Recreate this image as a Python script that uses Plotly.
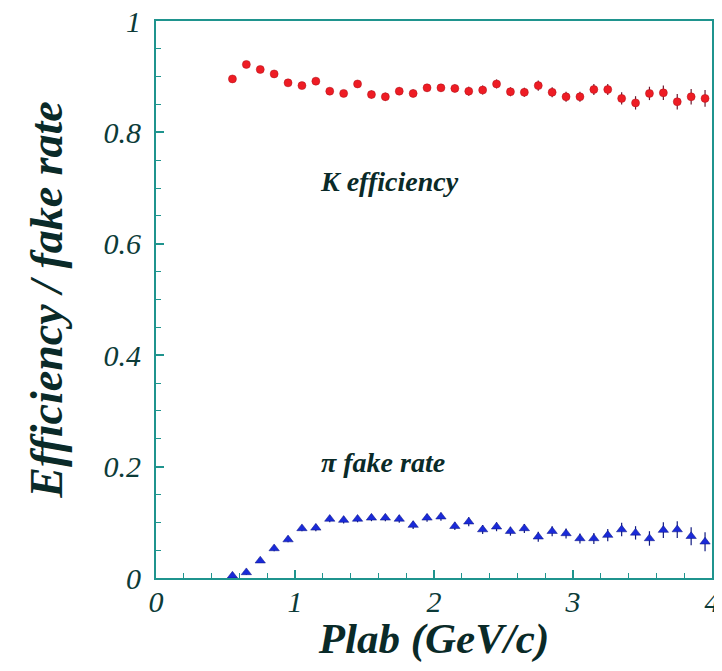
import plotly.graph_objects as go

plab = [0.55, 0.65, 0.75, 0.85, 0.95, 1.05, 1.15, 1.25, 1.35, 1.45, 1.55, 1.65,
        1.75, 1.85, 1.95, 2.05, 2.15, 2.25, 2.35, 2.45, 2.55, 2.65, 2.75, 2.85,
        2.95, 3.05, 3.15, 3.25, 3.35, 3.45, 3.55, 3.65, 3.75, 3.85, 3.95]

k_eff = [0.896, 0.922, 0.913, 0.905, 0.889, 0.884, 0.892, 0.874, 0.870, 0.887,
         0.868, 0.864, 0.874, 0.870, 0.880, 0.880, 0.879, 0.874, 0.876, 0.887,
         0.873, 0.872, 0.884, 0.872, 0.864, 0.864, 0.877, 0.877, 0.861, 0.853,
         0.870, 0.871, 0.855, 0.864, 0.861]
k_err = [0.006, 0.006, 0.006, 0.006, 0.006, 0.006, 0.006, 0.006, 0.006, 0.006,
         0.007, 0.007, 0.007, 0.007, 0.007, 0.007, 0.007, 0.008, 0.008, 0.008,
         0.008, 0.008, 0.009, 0.009, 0.009, 0.009, 0.010, 0.010, 0.011, 0.012,
         0.012, 0.013, 0.014, 0.014, 0.015]

pi_fake = [0.004, 0.010, 0.031, 0.053, 0.069, 0.089, 0.090, 0.106, 0.104, 0.106,
           0.108, 0.108, 0.106, 0.095, 0.108, 0.110, 0.093, 0.101, 0.087, 0.092,
           0.084, 0.089, 0.074, 0.084, 0.080, 0.071, 0.071, 0.077, 0.087, 0.081,
           0.071, 0.086, 0.087, 0.075, 0.065]
pi_err = [0.003, 0.004, 0.004, 0.005, 0.005, 0.005, 0.006, 0.006, 0.006, 0.006,
          0.006, 0.006, 0.007, 0.007, 0.007, 0.007, 0.007, 0.008, 0.008, 0.008,
          0.008, 0.008, 0.009, 0.009, 0.009, 0.009, 0.010, 0.011, 0.012, 0.012,
          0.013, 0.014, 0.015, 0.016, 0.017]

x_ticks = [0, 1, 2, 3, 4]
x_ticklabels = ["0", "1", "2", "3", "4"]
y_ticks = [0, 0.2, 0.4, 0.6, 0.8, 1]
y_ticklabels = ["0", "0.2", "0.4", "0.6", "0.8", "1"]

TEAL = "#1f948e"
TXT = "#0c3b38"
DARK = "#0a2a28"
SERIF = "Liberation Serif"

fig = go.Figure()
fig.add_trace(go.Scatter(
    x=plab, y=k_eff, mode="markers", name="K efficiency",
    marker=dict(symbol="circle", size=8, color="#ee1c24",
                line=dict(color="#b01018", width=0.5)),
    error_y=dict(type="data", array=k_err, color="#6a1a30", thickness=1.2, width=0),
))
fig.add_trace(go.Scatter(
    x=plab, y=pi_fake, mode="markers", name="pi fake rate",
    marker=dict(symbol="triangle-up", size=9, color="#1a2ad8",
                line=dict(color="#0a1280", width=0.5)),
    error_y=dict(type="data", array=pi_err, color="#101a80", thickness=1.2, width=0),
))

fig.add_annotation(x=1.68, y=0.711, xref="x", yref="y", text="K efficiency",
                   showarrow=False,
                   font=dict(family=SERIF, size=28, color=DARK,
                             style="italic", weight="bold"))
fig.add_annotation(x=1.63, y=0.208, xref="x", yref="y", text="π fake rate",
                   showarrow=False,
                   font=dict(family=SERIF, size=28, color=DARK,
                             style="italic", weight="bold"))

axis_common = dict(
    showline=True, linecolor=TEAL, linewidth=2, mirror=True,
    showgrid=False, zeroline=False, automargin=False,
    ticklabeloverflow="allow",
    ticks="inside", ticklen=8, tickwidth=1.5, tickcolor=TEAL,
    tickfont=dict(family=SERIF, size=30, color=TXT, style="italic"),
)

# the page body adds an 8px border; the figure is sized so nothing overflows the window
# and the plot area sits at about x 156..712, y 21..578 in the window
fig.update_layout(
    width=706, height=655,
    margin=dict(l=148, r=2, t=13, b=85),
    paper_bgcolor="white", plot_bgcolor="white",
    showlegend=False,
    xaxis=dict(
        **axis_common, range=[0, 4], tickvals=x_ticks, ticktext=x_ticklabels,
        minor=dict(dtick=0.2, ticks="inside", ticklen=5, tickcolor=TEAL, tickwidth=1.2),
        ticklabelstandoff=-4,
        title=dict(text="Plab (GeV/c)", standoff=25,
                   font=dict(family=SERIF, size=43, color=DARK,
                             style="italic", weight="bold")),
    ),
    yaxis=dict(
        **axis_common, range=[0, 1], tickvals=y_ticks, ticktext=y_ticklabels,
        minor=dict(dtick=0.05, ticks="inside", ticklen=5, tickcolor=TEAL, tickwidth=1.2),
        ticklabelstandoff=7,
        title=dict(text="Efficiency / fake rate", standoff=26,
                   font=dict(family=SERIF, size=46, color=DARK,
                             style="italic", weight="bold")),
    ),
)

fig.write_html("out.html")
